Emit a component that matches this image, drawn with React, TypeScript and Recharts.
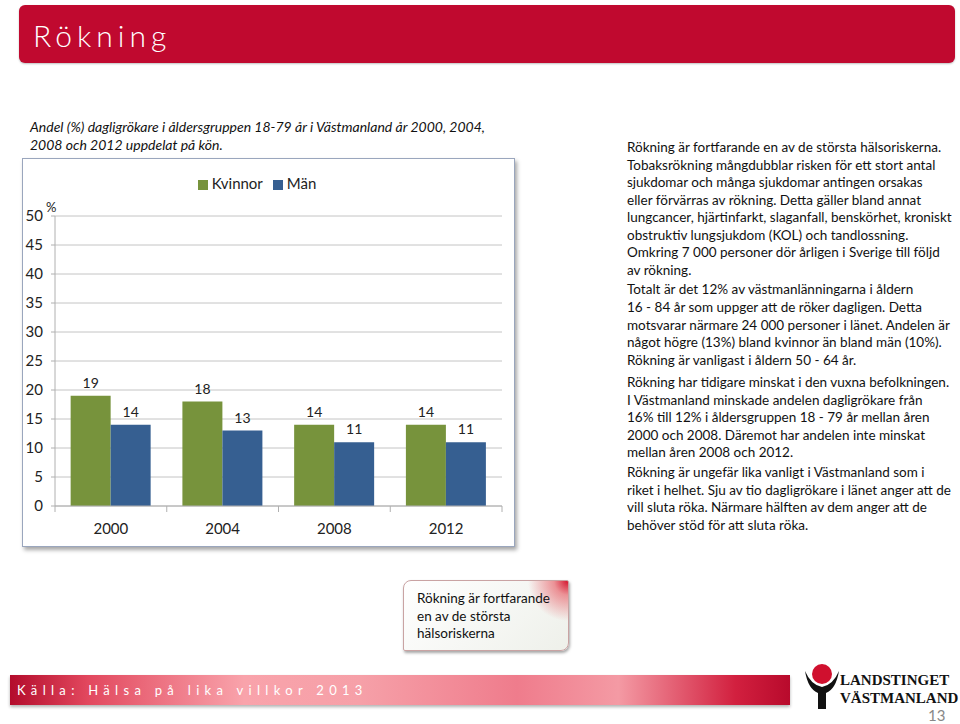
import { BarChart, Bar, XAxis, YAxis, CartesianGrid, Legend, LabelList } from 'recharts';

const years = ['2000', '2004', '2008', '2012'];
const kvinnor = [19, 18, 14, 14];
const man = [14, 13, 11, 11];
const yTicks = [0, 5, 10, 15, 20, 25, 30, 35, 40, 45, 50];

const data = years.map((year, i) => ({ year, Kvinnor: kvinnor[i], Män: man[i] }));

const GREEN = '#77933c';
const BLUE = '#365f91';
const FONT = 'Lato, "Open Sans", sans-serif';

const BAND = 447 / years.length;

function YearTick(props: any) {
  const { x, y, payload, index } = props;
  return (
    <g>
      <line x1={x - BAND / 2} x2={x - BAND / 2} y1={y} y2={y + 6} stroke="#b0b0b0" />
      {index === years.length - 1 && (
        <line x1={x + BAND / 2} x2={x + BAND / 2} y1={y} y2={y + 6} stroke="#b0b0b0" />
      )}
      <text x={x} y={y + 22} textAnchor="middle" dominantBaseline="central" fill="#222" fontSize={15}>
        {payload.value}
      </text>
    </g>
  );
}

const p = (top: number, left: number, extra: any = {}) => ({
  position: 'absolute' as const,
  top,
  left,
  ...extra,
});

const body = { fontSize: 13.5, color: '#111', whiteSpace: 'nowrap' as const };

export default function App() {
  return (
    <div style={{ position: 'absolute', left: 0, top: 0, width: 960, height: 724, background: '#fff', fontFamily: FONT, overflow: 'hidden' }}>
      {/* title bar */}
      <div style={p(5, 19, { width: 936, height: 58, background: '#c0092f', borderRadius: 6, boxShadow: '0 1px 2px rgba(0,0,0,0.25)' })}>
        <div style={{ position: 'absolute', left: 14, top: 12, color: '#fff', fontSize: 30, letterSpacing: 5, fontWeight: 300 }}>Rökning</div>
      </div>

      {/* caption */}
      <div style={p(118, 30, { fontSize: 14, fontStyle: 'italic', lineHeight: '18px', color: '#111', whiteSpace: 'nowrap' })}>
        Andel (%) dagligrökare i åldersgruppen 18-79 år i Västmanland år 2000, 2004,
        <br />
        2008 och 2012 uppdelat på kön.
      </div>

      {/* chart box */}
      <div style={p(158, 22, { width: 491, height: 387, border: '1px solid #9aa6bd', boxShadow: '2px 3px 4px rgba(0,0,0,0.35)', background: '#fff' })} />
      <div style={p(158, 22)}>
        <BarChart
          width={493}
          height={389}
          data={data}
          margin={{ top: 40, right: 13, left: 0, bottom: 0 }}
          barCategoryGap="14%"
          barGap={0}
        >
          <CartesianGrid vertical={false} stroke="#c4c4c4" />
          <Legend
            verticalAlign="top"
            align="center"
            iconType="square"
            iconSize={10}
            wrapperStyle={{ top: 16, fontSize: 15 }}
            formatter={(v: string) => <span style={{ color: '#222' }}>{v}</span>}
          />
          <XAxis
            dataKey="year"
            height={41}
            tickLine={false}
            tickSize={0}
            tickMargin={0}
            axisLine={{ stroke: '#b0b0b0' }}
            tick={<YearTick />}
            interval={0}
          />
          <YAxis
            width={33}
            domain={[0, 50]}
            ticks={yTicks}
            interval={0}
            tickSize={4}
            tickMargin={8}
            axisLine={{ stroke: '#b0b0b0' }}
            tickLine={{ stroke: '#b0b0b0' }}
            tick={{ fill: '#222', fontSize: 15 }}
          />
          <Bar dataKey="Kvinnor" fill={GREEN} isAnimationActive={false}>
            <LabelList dataKey="Kvinnor" position="top" offset={8} fill="#222" fontSize={14} />
          </Bar>
          <Bar dataKey="Män" fill={BLUE} isAnimationActive={false}>
            <LabelList dataKey="Män" position="top" offset={8} fill="#222" fontSize={14} />
          </Bar>
        </BarChart>
      </div>
      <div style={p(199, 46, { fontSize: 13, color: '#222' })}>%</div>

      {/* right text */}
      <div style={p(139, 627, { ...body, lineHeight: '17.5px' })}>
        Rökning är fortfarande en av de största hälsoriskerna.
        <br />
        Tobaksrökning mångdubblar risken för ett stort antal
        <br />
        sjukdomar och många sjukdomar antingen orsakas
        <br />
        eller förvärras av rökning. Detta gäller bland annat
        <br />
        lungcancer, hjärtinfarkt, slaganfall, benskörhet, kroniskt
        <br />
        obstruktiv lungsjukdom (KOL) och tandlossning.
        <br />
        Omkring 7 000 personer dör årligen i Sverige till följd
        <br />
        av rökning.
      </div>
      <div style={p(281, 627, { ...body, lineHeight: '17.75px' })}>
        Totalt är det 12% av västmanlänningarna i åldern
        <br />
        16 - 84 år som uppger att de röker dagligen. Detta
        <br />
        motsvarar närmare 24 000 personer i länet. Andelen är
        <br />
        något högre (13%) bland kvinnor än bland män (10%).
        <br />
        Rökning är vanligast i åldern 50 - 64 år.
      </div>
      <div style={p(374, 627, { ...body, lineHeight: '17.5px' })}>
        Rökning har tidigare minskat i den vuxna befolkningen.
        <br />
        I Västmanland minskade andelen dagligrökare från
        <br />
        16% till 12% i åldersgruppen 18 - 79 år mellan åren
        <br />
        2000 och 2008. Däremot har andelen inte minskat
        <br />
        mellan åren 2008 och 2012.
      </div>
      <div style={p(464, 627, { ...body, lineHeight: '17.5px' })}>
        Rökning är ungefär lika vanligt i Västmanland som i
        <br />
        riket i helhet. Sju av tio dagligrökare i länet anger att de
        <br />
        vill sluta röka. Närmare hälften av dem anger att de
        <br />
        behöver stöd för att sluta röka.
      </div>

      {/* callout */}
      <div
        style={p(580, 403, {
          width: 164,
          height: 69,
          border: '1px solid #c9a3a3',
          borderRadius: '8px 2px 8px 2px',
          background: 'radial-gradient(circle at 100% 0%, #d4162f 0px, rgba(230,80,90,0.6) 14px, rgba(255,255,255,0) 40px), linear-gradient(135deg, #ffffff, #eef0ea)',
          boxShadow: '1px 2px 3px rgba(0,0,0,0.35)',
        })}
      >
        <div style={{ position: 'absolute', left: 13, top: 9, ...body, lineHeight: '17.5px' }}>
          Rökning är fortfarande
          <br />
          en av de största
          <br />
          hälsoriskerna
        </div>
      </div>

      {/* footer */}
      <div
        style={p(675, 10, {
          width: 780,
          height: 30,
          background: 'linear-gradient(90deg, #b30c2c 0%, #e2485e 10%, #f9a3ab 30%, #f6a0a8 45%, #ef7c8c 65%, #f49aa4 78%, #d2203f 93%, #b80a2c 100%)',
          boxShadow: '0 2px 3px rgba(0,0,0,0.3)',
        })}
      >
        <div style={{ position: 'absolute', left: 7, top: 7, color: '#fff', fontSize: 13, letterSpacing: 5.3, whiteSpace: 'nowrap' }}>
          Källa: Hälsa på lika villkor 2013
        </div>
      </div>

      {/* logo */}
      <svg style={p(663, 800)} width={160} height={50}>
        <circle cx={22} cy={11} r={10} fill="#d0102e" />
        <path d="M5 8 Q8 26 18 30 L18 46 L26 46 L26 30 Q36 26 39 8 Q33 22 22 24 Q11 22 5 8 Z" fill="#111" />
        <text x={40} y={22} fontFamily="'Liberation Serif', serif" fontSize={15} fontWeight="bold" fill="#111">LANDSTINGET</text>
        <text x={40} y={40} fontFamily="'Liberation Serif', serif" fontSize={15} fontWeight="bold" fill="#111">VÄSTMANLAND</text>
      </svg>
      <div style={p(706, 928, { fontSize: 15, color: '#888' })}>13</div>
    </div>
  );
}
